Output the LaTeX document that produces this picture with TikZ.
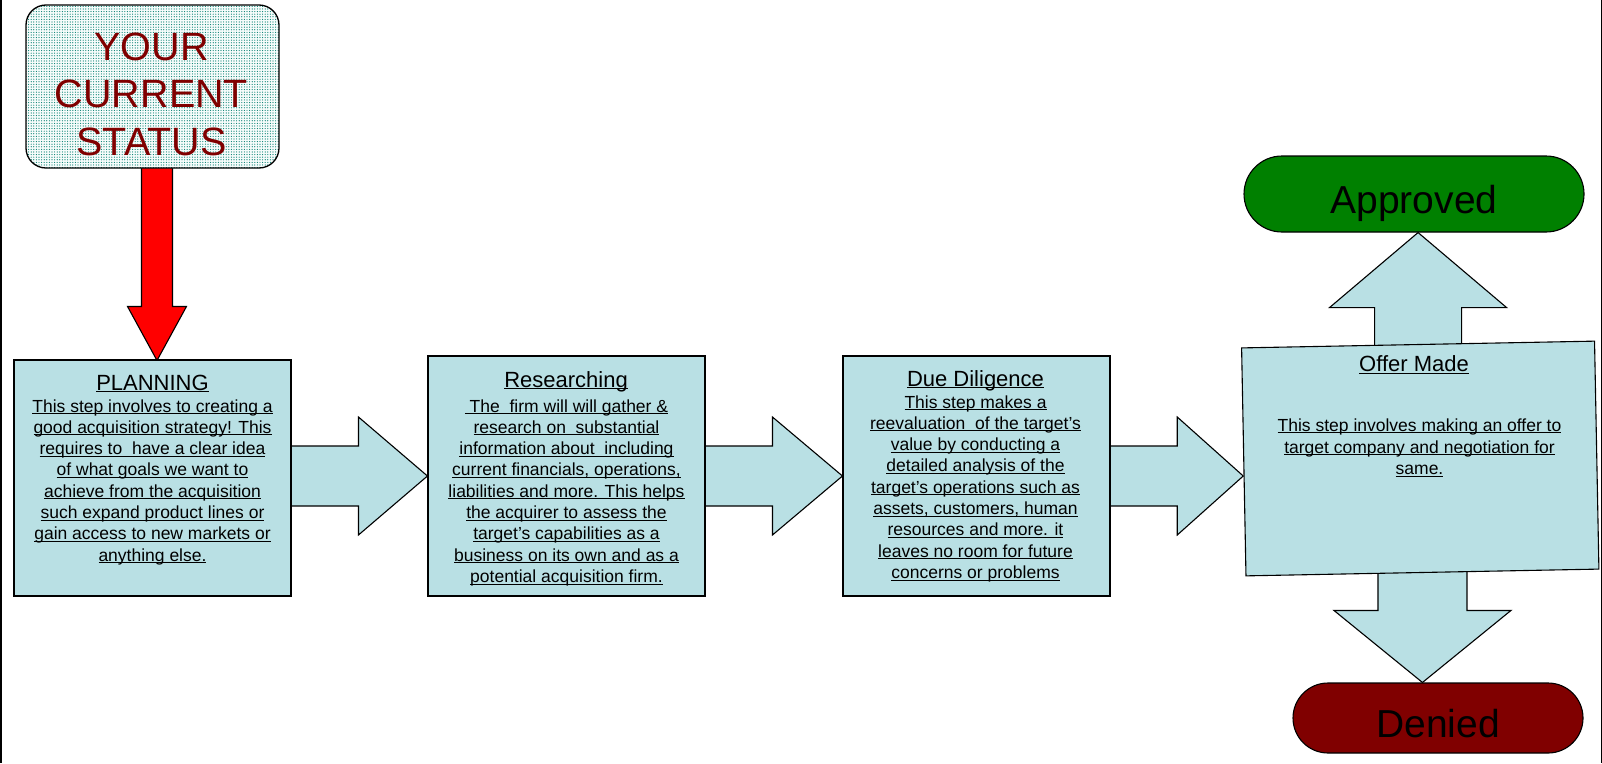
\documentclass[tikz,border=0pt]{standalone}
\usepackage{fontspec}
\setmainfont{Liberation Sans}
\usetikzlibrary{calc,backgrounds,patterns.meta}

\definecolor{stepfill}{RGB}{185,224,228}
\definecolor{statusred}{RGB}{128,0,0}
\definecolor{dotteal}{RGB}{0,125,110}
\definecolor{statusbase}{RGB}{246,252,251}
\definecolor{okgreen}{RGB}{0,128,0}
\definecolor{nored}{RGB}{128,0,0}

% underline at a fixed depth below the baseline, through the descenders
\newsavebox\ulbox
\newcommand\ulx[1]{\sbox\ulbox{#1}\rlap{\rule[-2pt]{\wd\ulbox}{0.9pt}}\usebox\ulbox}
\newcommand\lines[1]{\begin{tabular}[t]{@{}c@{}}#1\end{tabular}}

\tikzdeclarepattern{
  name=statusdots, type=uncolored,
  bottom left={(-1.3pt,-1.3pt)}, top right={(1.3pt,1.3pt)},
  tile size={(2.6pt,2.6pt)},
  code={\pgfpathcircle{\pgfpointorigin}{0.6pt}\pgfusepath{fill}}
}

\tikzset{
  outline/.style={draw=black, line width=1.1pt, line join=miter},
  stepbox/.style={outline, fill=stepfill, rectangle, inner sep=0pt},
  flowarrow/.style={outline, fill=stepfill},
  redarrow/.style={outline, fill=red},
  statusbox/.style={outline, line width=1.3pt, rectangle, rounded corners=20pt,
    inner sep=0pt, preaction={fill=statusbase}, pattern=statusdots, pattern color=dotteal},
  pill/.style={outline, rectangle, inner sep=0pt, text=black,
    font=\fontsize{39}{47}\selectfont, text height=38pt, text depth=0pt},
  titletext/.style={inner sep=0pt, anchor=base, font=\fontsize{22}{26}\selectfont},
  bodytext/.style={inner sep=0pt, anchor=base, font=\fontsize{17.5}{21.3}\selectfont},
}

\begin{document}
\begin{tikzpicture}[x=1pt, y=-1pt]
\useasboundingbox (0,0) rectangle (1602,763);

% page frame
\draw[line width=2pt] (1,0) -- (1,763);
\draw[line width=1pt] (1601,0) -- (1601,763);

% boxes
\node[statusbox, minimum width=253pt, minimum height=163pt] (status) at (152.5,86.5) {};
\node[stepbox, minimum width=277pt, minimum height=236pt] (plan) at (152.5,478) {};
\node[stepbox, minimum width=277pt, minimum height=240pt] (res) at (566.5,476) {};
\node[stepbox, minimum width=267pt, minimum height=240pt] (dd) at (976.5,476) {};
\node[stepbox, minimum width=353pt, minimum height=228pt, rotate=1.1] (offer) at (1420.25,458.5) {};
\node[pill, fill=okgreen, rounded corners=38pt, minimum width=340pt, minimum height=76pt]
  (approved) at (1414,194) {Approved};
\node[pill, fill=nored, rounded corners=35pt, minimum width=290pt, minimum height=70pt]
  (denied) at (1438,718) {Denied};

% connectors, behind the boxes
\coordinate (rtip) at ($(plan.north)+(4.5,1)$);
\coordinate (t1) at (res.west);
\coordinate (t2) at (dd.west);
\coordinate (t3) at (offer.west |- dd.east);
\coordinate (uptip) at (offer.north |- approved.south);
\coordinate (downtip) at (offer.south |- denied.north);

\begin{scope}[on background layer]
\draw[redarrow] ($(rtip |- status.south)+(-15.5,-4)$) -- ($(rtip)+(-15.5,-54)$)
  -- ($(rtip)+(-29.5,-54)$) -- (rtip) -- ($(rtip)+(29.5,-54)$)
  -- ($(rtip)+(15.5,-54)$) -- ($(rtip |- status.south)+(15.5,-4)$) -- cycle;

\draw[flowarrow] ($(plan.east |- t1)+(-4,-30)$) -- ($(t1)+(-69,-30)$) -- ($(t1)+(-69,-59)$)
  -- (t1) -- ($(t1)+(-69,59)$) -- ($(t1)+(-69,30)$) -- ($(plan.east |- t1)+(-4,30)$) -- cycle;
\draw[flowarrow] ($(res.east |- t2)+(-4,-30)$) -- ($(t2)+(-70,-30)$) -- ($(t2)+(-70,-59)$)
  -- (t2) -- ($(t2)+(-70,59)$) -- ($(t2)+(-70,30)$) -- ($(res.east |- t2)+(-4,30)$) -- cycle;
\draw[flowarrow] ($(dd.east |- t3)+(-4,-30)$) -- ($(t3)+(-66,-30)$) -- ($(t3)+(-66,-59)$)
  -- (t3) -- ($(t3)+(-66,59)$) -- ($(t3)+(-66,30)$) -- ($(dd.east |- t3)+(-4,30)$) -- cycle;

\draw[flowarrow] ($(offer.north)+(-43.5,10)$) -- ($(uptip)+(-43.5,75)$) -- ($(uptip)+(-88.5,75)$)
  -- (uptip) -- ($(uptip)+(88.5,75)$) -- ($(uptip)+(43.5,75)$) -- ($(offer.north)+(43.5,10)$) -- cycle;
\draw[flowarrow] ($(offer.south)+(-44.5,-10)$) -- ($(downtip)+(-44.5,-72)$) -- ($(downtip)+(-88.5,-72)$)
  -- (downtip) -- ($(downtip)+(88.5,-72)$) -- ($(downtip)+(44.5,-72)$) -- ($(offer.south)+(44.5,-10)$) -- cycle;
\end{scope}

% texts
\node[inner sep=0pt, anchor=base, text=statusred, font=\fontsize{39.5}{47.5}\selectfont]
  (statustext) at (151.5,60) {\lines{YOUR\\CURRENT\\STATUS}};

\node[titletext] (plantitle) at (152.5,390) {\ulx{PLANNING}};
\node[bodytext] (plantext) at (152.5,412) {\lines{%
  \ulx{This step involves to creating a}\\
  \ulx{good acquisition strategy! This}\\
  \ulx{requires to\ \ have a clear idea}\\
  \ulx{of what goals we want to}\\
  \ulx{achieve from the acquisition}\\
  \ulx{such expand product lines or}\\
  \ulx{gain access to new markets or}\\
  \ulx{anything else.}}};

\node[titletext] (restitle) at (566,387.3) {\ulx{Researching}};
\node[bodytext] (restext) at (566.5,412) {\lines{%
  \ulx{\ The\ \ firm will will gather \&}\\
  \ulx{research on\ \ substantial}\\
  \ulx{information about\ \ including}\\
  \ulx{current financials, operations,}\\
  \ulx{liabilities and more. This helps}\\
  \ulx{the acquirer to assess the}\\
  \ulx{target’s capabilities as a}\\
  \ulx{business on its own and as a}\\
  \ulx{potential acquisition firm.}}};

\node[titletext] (ddtitle) at (975.5,386.3) {\ulx{Due Diligence}};
\node[bodytext] (ddtext) at (975.5,408) {\lines{%
  \ulx{This step makes a}\\
  \ulx{reevaluation\ \ of the target’s}\\
  \ulx{value by conducting a}\\
  \ulx{detailed analysis of the}\\
  \ulx{target’s operations such as}\\
  \ulx{assets, customers, human}\\
  \ulx{resources and more. it}\\
  \ulx{leaves no room for future}\\
  \ulx{concerns or problems}}};

\node[titletext] (offertitle) at (1414,371.5) {\ulx{Offer Made}};
\node[bodytext, font=\fontsize{17.5}{21.7}\selectfont] (offertext) at (1419.5,431.3) {\lines{%
  \ulx{This step involves making an offer to}\\
  \ulx{target company and negotiation for}\\
  \ulx{same.}}};
\end{tikzpicture}
\end{document}
